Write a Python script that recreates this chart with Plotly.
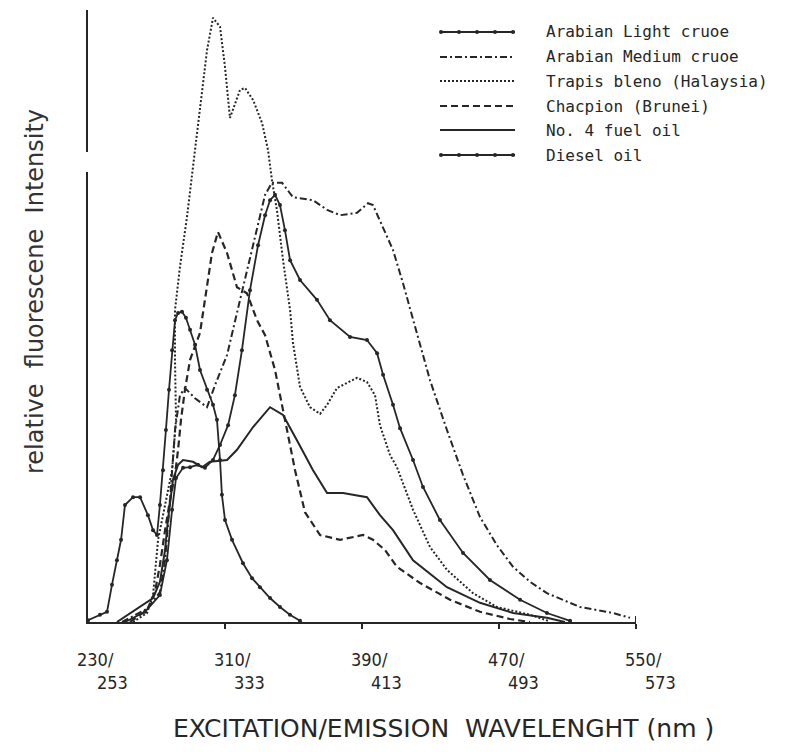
import plotly.graph_objects as go

# ---------------- data (excitation wavelength nm, relative intensity) ----------------
diesel_x = [230.0, 237.0, 241.1, 244.0, 246.9, 249.3, 251.6, 256.3, 260.4, 265.0, 268.0, 270.3,
            272.0, 273.8, 275.5, 277.3, 279.1, 280.8, 282.6, 284.9, 287.2, 289.6, 292.5, 295.4,
            299.5, 303.0, 305.3, 307.1, 308.2, 310.0, 314.1, 320.5, 325.8, 330.4, 336.3, 342.1,
            347.9, 353.8]
diesel_y = [0.3, 1.2, 1.7, 6.2, 10.3, 13.7, 19.5, 20.8, 20.8, 17.8, 15.3, 14.5,
            19.5, 25.3, 32.0, 38.7, 45.3, 50.3, 51.5, 51.7, 50.7, 48.7, 46.2, 42.0,
            38.7, 36.2, 33.7, 27.0, 21.2, 17.0, 13.7, 9.8, 7.3, 5.8, 4.0, 2.5,
            1.2, 0.2]

alight_x = [251.6, 263.3, 272.0, 276.1, 279.1, 281.4, 285.5, 289.6, 294.2, 298.3, 303.0, 307.1,
            311.8, 315.8, 319.9, 324.6, 329.3, 333.4, 336.3, 339.2, 342.1, 345.0, 348.0, 353.8,
            363.7, 371.3, 383.0, 392.9, 398.8, 402.3, 408.1, 412.2, 419.8, 425.6, 435.5, 449.0,
            464.7, 482.3, 498.0, 511.5]
alight_y = [0.0, 1.7, 4.5, 10.3, 18.7, 24.0, 25.7, 25.8, 26.2, 25.7, 27.0, 29.5,
            32.8, 37.8, 45.3, 55.3, 62.8, 67.8, 70.3, 71.2, 69.5, 65.3, 60.3, 57.0,
            53.7, 50.3, 47.5, 47.0, 44.8, 41.2, 36.2, 32.3, 27.0, 22.5, 17.0, 11.5,
            7.0, 3.7, 1.5, 0.2]

amedium_x = [249.9, 265.0, 272.0, 275.0, 277.9, 280.8, 283.7, 286.6, 292.5, 299.5, 304.2, 311.2,
             318.8, 324.6, 329.3, 333.4, 337.4, 343.3, 349.7, 361.4, 369.6, 377.2, 387.1, 393.5,
             396.4, 402.3, 408.1, 413.9, 419.8, 429.7, 439.6, 449.0, 458.9, 468.8, 478.2, 488.1,
             498.0, 517.3, 536.6, 546.5]
amedium_y = [0.0, 2.3, 5.0, 10.3, 20.3, 32.0, 37.8, 39.0, 37.3, 35.8, 39.5, 44.5,
             53.7, 60.7, 66.2, 71.2, 73.2, 73.2, 70.8, 70.3, 68.7, 67.8, 68.2, 69.8,
             69.5, 65.8, 62.0, 56.5, 50.3, 40.3, 32.0, 24.5, 17.5, 12.8, 9.2, 6.7,
             4.8, 2.5, 1.5, 0.7]

trapis_x = [256.3, 264.5, 268.0, 269.7, 270.9, 275.0, 279.1, 281.4, 280.8, 280.8, 283.7, 287.8,
            293.6, 299.5, 303.0, 307.1, 310.0, 312.9, 318.8, 321.7, 326.4, 331.6, 335.1, 337.4,
            340.3, 343.9, 348.0, 349.7, 353.8, 359.6, 365.5, 369.6, 375.4, 387.1, 392.9, 397.6,
            400.5, 406.4, 410.4, 419.8, 429.7, 439.6, 454.8, 468.8, 488.1, 498.6]
trapis_y = [0.0, 1.5, 4.5, 9.5, 13.7, 19.5, 25.3, 33.7, 43.7, 52.0, 59.2, 67.5,
            81.5, 95.3, 100.7, 99.2, 92.5, 84.0, 88.7, 89.0, 87.0, 83.2, 78.7, 73.7,
            68.7, 60.3, 52.0, 46.5, 39.2, 35.8, 34.7, 36.2, 39.0, 40.7, 40.0, 37.8,
            32.8, 27.8, 25.8, 18.7, 12.5, 8.7, 4.8, 2.5, 1.2, 0.2]

champion_x = [254.5, 264.5, 269.1, 272.0, 275.0, 277.9, 280.8, 282.6, 284.3, 286.6, 289.6, 295.4,
              298.3, 302.4, 305.9, 311.2, 317.0, 322.8, 328.7, 333.4, 339.2, 345.0, 350.9, 356.7,
              365.5, 377.2, 390.6, 396.4, 403.4, 410.4, 423.9, 441.4, 458.9, 476.4, 488.1]
champion_y = [0.0, 2.0, 5.0, 9.5, 15.3, 20.3, 24.5, 28.7, 33.7, 38.7, 43.7, 48.2,
              53.7, 61.5, 65.0, 61.5, 55.8, 54.8, 50.3, 47.8, 42.0, 33.7, 25.3, 18.3,
              14.5, 13.7, 14.5, 13.7, 12.0, 9.2, 6.5, 3.7, 1.7, 0.5, 0.0]

fuel4_x = [246.9, 257.4, 268.0, 272.0, 275.0, 276.7, 279.6, 282.6, 285.5, 291.3, 296.6, 301.2,
           311.2, 317.0, 326.4, 336.3, 343.9, 352.0, 361.4, 369.6, 378.9, 392.9, 400.5, 408.1,
           419.8, 439.6, 458.9, 478.2, 498.0, 508.5]
fuel4_y = [0.0, 2.0, 4.0, 6.7, 12.0, 17.0, 23.7, 26.2, 27.0, 26.7, 25.8, 26.7,
           27.0, 28.7, 32.5, 35.8, 34.5, 30.3, 25.3, 21.5, 21.5, 20.8, 17.8, 15.3,
           10.3, 5.8, 3.2, 1.5, 0.7, 0.0]

series_names = ["Arabian Light cruoe", "Arabian Medium cruoe", "Trapis bleno (Halaysia)",
                "Chacpion (Brunei)", "No. 4 fuel oil", "Diesel oil"]

tick_values = [230, 310, 390, 470, 550]
tick_top = ["230/", "310/", "390/", "470/", "550/"]
tick_bottom = ["253", "333", "413", "493", "573"]

x_title = "EXCITATION/EMISSION  WAVELENGHT (nm )"
y_title = "relative  fluorescene  Intensity"

# ---------------- layout helpers (pixel -> paper) ----------------
W, H = 804, 752
L, R, T, B = 88, 168, 10, 130
PW, PH = W - L - R, H - T - B


def px(xp):
    return (xp - L) / PW


def py(yp):
    return (H - B - yp) / PH


INK = "#262626"

styles = [
    dict(line=dict(color=INK, width=1.8, dash="solid"), mode="lines+markers",
         marker=dict(size=4, color=INK)),
    dict(line=dict(color=INK, width=2, dash="7px,3px,2px,3px"), mode="lines"),
    dict(line=dict(color=INK, width=2, dash="2px,2px"), mode="lines"),
    dict(line=dict(color=INK, width=2.2, dash="7px,4px"), mode="lines"),
    dict(line=dict(color=INK, width=2), mode="lines"),
    dict(line=dict(color=INK, width=1.8, dash="solid"), mode="lines+markers",
         marker=dict(size=4, color=INK)),
]

xs = [alight_x, amedium_x, trapis_x, champion_x, fuel4_x, diesel_x]
ys = [alight_y, amedium_y, trapis_y, champion_y, fuel4_y, diesel_y]

fig = go.Figure()
for name, x, y, st in zip(series_names, xs, ys, styles):
    fig.add_trace(go.Scatter(x=x, y=y, name=name, showlegend=False, **st))

fig.update_layout(
    width=W, height=H,
    margin=dict(l=L, r=R, t=T, b=B, pad=0),
    paper_bgcolor="white", plot_bgcolor="white",
    xaxis=dict(range=[230, 550], showline=True, linecolor=INK, linewidth=2,
               showgrid=False, zeroline=False, ticks="outside", ticklen=5,
               tickcolor=INK, tickwidth=2, tickvals=tick_values[1:],
               showticklabels=False),
    yaxis=dict(range=[0, 102], showline=True, linecolor=INK, linewidth=2,
               showgrid=False, zeroline=False, ticks="", showticklabels=False),
)

annotations = []
tick_font = dict(family="DejaVu Sans Condensed, DejaVu Sans", size=18, color=INK)
for v, a, b in zip(tick_values, tick_top, tick_bottom):
    annotations.append(dict(x=v, xref="x", y=py(659), yref="paper", text=a,
                            showarrow=False, xshift=7, xanchor="center", yanchor="middle",
                            font=tick_font))
    annotations.append(dict(x=v, xref="x", y=py(682), yref="paper", text=b,
                            showarrow=False, xshift=24, xanchor="center", yanchor="middle",
                            font=tick_font))

annotations.append(dict(x=px(443), y=py(728), xref="paper", yref="paper", text=x_title,
                        showarrow=False, xanchor="center", yanchor="middle",
                        font=dict(family="DejaVu Sans", size=25, color=INK)))
annotations.append(dict(x=px(35), y=py(292), xref="paper", yref="paper", text=y_title,
                        showarrow=False, textangle=-90, xanchor="center", yanchor="middle",
                        font=dict(family="DejaVu Sans", size=24, color="#333333")))

# legend (drawn manually)
shapes = []
row_y = [32, 57, 81, 106, 130, 155]
dashes = ["solid", "7px,3px,2px,3px", "2px,2px", "7px,4px", "solid", "solid"]
for i, (name, yy, dsh) in enumerate(zip(series_names, row_y, dashes)):
    shapes.append(dict(type="line", xref="paper", yref="paper", x0=px(440), x1=px(515),
                       y0=py(yy), y1=py(yy), line=dict(color=INK, width=2, dash=dsh)))
    if i in (0, 5):
        for mx in (441, 459, 477, 495, 513):
            shapes.append(dict(type="circle", xref="paper", yref="paper",
                               x0=px(mx - 2), x1=px(mx + 2), y0=py(yy - 2), y1=py(yy + 2),
                               line=dict(width=0), fillcolor=INK))
    annotations.append(dict(x=px(544), y=py(yy), xref="paper", yref="paper", text=name,
                            showarrow=False, xanchor="left", yanchor="middle",
                            font=dict(family="DejaVu Sans Mono", size=16, color=INK)))

# end tick at 550
shapes.append(dict(type="line", xref="x", yref="paper", x0=550, x1=550,
                   y0=py(628), y1=py(616), line=dict(color=INK, width=2)))
# small break in the scanned y-axis line
shapes.append(dict(type="rect", xref="paper", yref="paper", x0=px(85), x1=px(91),
                   y0=py(172), y1=py(152), line=dict(width=0), fillcolor="white"))

fig.update_layout(annotations=annotations, shapes=shapes)
fig.write_html("out.html")
